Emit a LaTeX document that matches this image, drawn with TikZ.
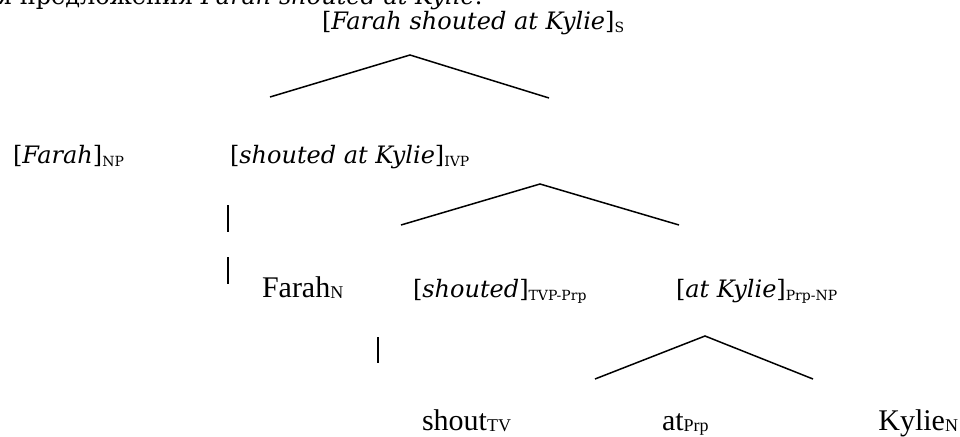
\documentclass[tikz,border=0pt]{standalone}
\usepackage{fontspec}
\setmainfont{DejaVu Serif}
\newfontfamily\tms{Liberation Serif}
\newcommand{\gsz}{\fontsize{24}{28}\selectfont}
\newcommand{\tsz}{\tms\fontsize{30}{34}\selectfont}
\newcommand{\sbs}[1]{\raisebox{-3pt}{\fontsize{14}{14}\selectfont #1}}
\newcommand{\tsbs}[1]{\raisebox{-1.5pt}{\tms\fontsize{18}{18}\selectfont #1}}
\begin{document}
\begin{tikzpicture}[x=1pt,y=-1pt,
  lbl/.style={inner sep=0pt,outer sep=0pt,anchor=base west},
  branch/.style={line width=1.5pt,line cap=butt,line join=miter}]
\useasboundingbox (0,0) rectangle (960,436);
% heading, cut off at the top edge as in the reference
\node[inner sep=0pt,anchor=base east] (head) at (483,5) {\gsz для предложения \textit{Farah shouted at Kylie}:};
% labels
\node[lbl] (s) at (322,30) {\gsz[\textit{Farah shouted at Kylie}]\sbs{S}};
\node[lbl] (np) at (13,163) {\gsz[\textit{Farah}]\sbs{NP}};
\node[lbl] (ivp) at (230,163) {\gsz[\textit{shouted at Kylie}]\sbs{IVP}};
\node[lbl] (farahn) at (262,297) {\tsz Farah\tsbs{N}};
\node[lbl] (tvp) at (413,297) {\gsz[\textit{shouted}]\sbs{TVP-Prp}};
\node[lbl] (prpnp) at (676,297) {\gsz[\textit{at Kylie}]\sbs{Prp-NP}};
\node[lbl] (shout) at (422,430) {\tsz shout\tsbs{TV}};
\node[lbl] (at) at (662,430) {\tsz at\tsbs{Prp}};
\node[lbl,anchor=base east] (kylie) at (958,430) {\tsz Kylie\tsbs{N}};
% branch coordinates
\coordinate (t1l) at (270,97); \coordinate (t1a) at (410,55); \coordinate (t1r) at (549,98);
\coordinate (t2l) at (401,225); \coordinate (t2a) at (540,184); \coordinate (t2r) at (679,225);
\coordinate (t3l) at (595,379); \coordinate (t3a) at (705,336); \coordinate (t3r) at (813,379);
\coordinate (v1t) at (228,205); \coordinate (v1b) at (228,232);
\coordinate (v2t) at (228,257); \coordinate (v2b) at (228,284);
\coordinate (v3t) at (378,337); \coordinate (v3b) at (378,363);
\draw[branch] (t1l) -- (t1a) -- (t1r);
\draw[branch] (t2l) -- (t2a) -- (t2r);
\draw[branch] (t3l) -- (t3a) -- (t3r);
\draw[branch] (v1t) -- (v1b);
\draw[branch] (v2t) -- (v2b);
\draw[branch] (v3t) -- (v3b);
\end{tikzpicture}
\end{document}
